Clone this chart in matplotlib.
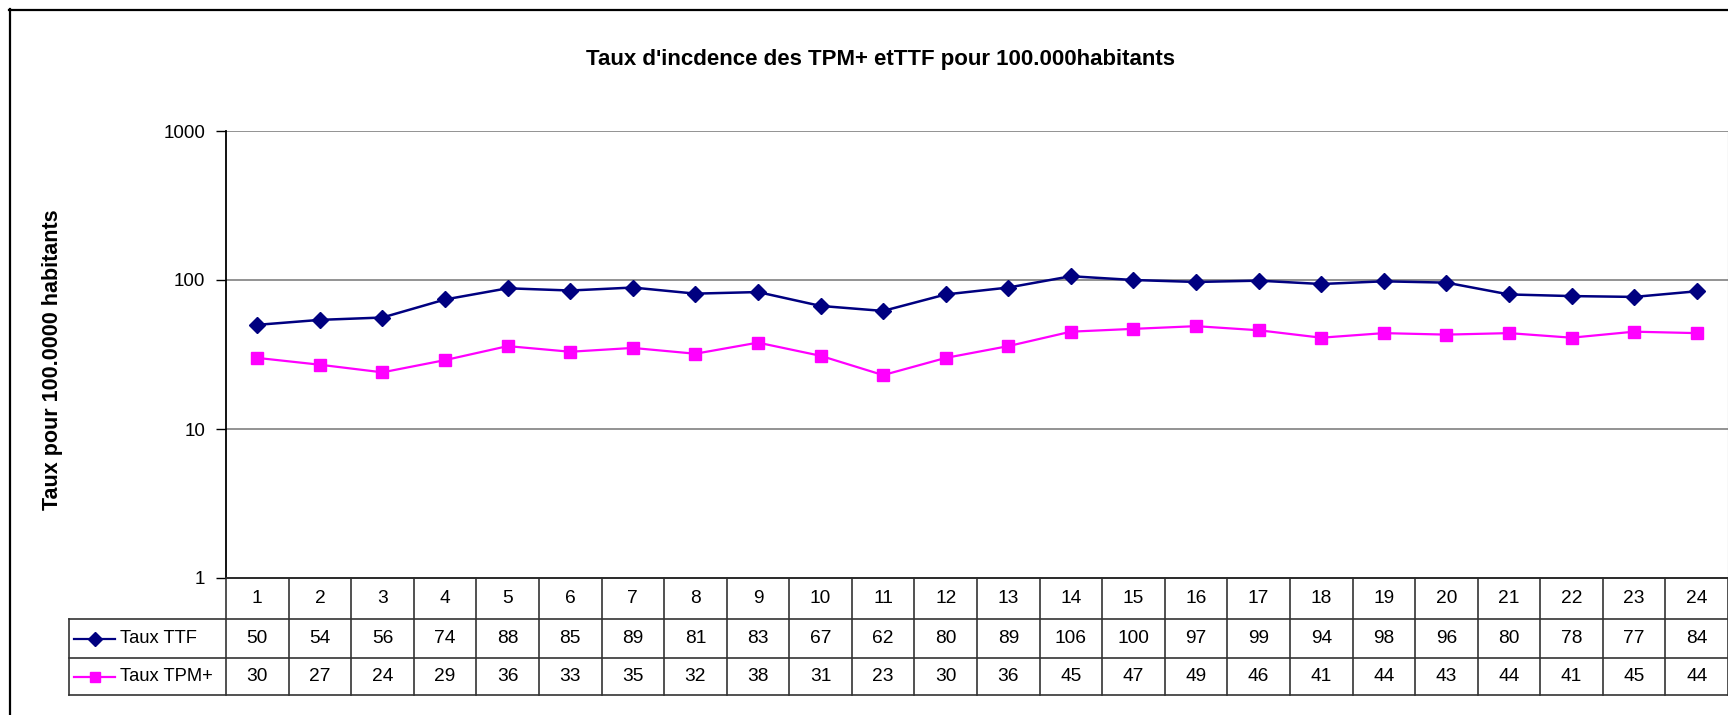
import matplotlib
matplotlib.use("Agg")
import matplotlib.pyplot as plt
from matplotlib.lines import Line2D
import numpy as np

plt.rcParams['font.family'] = ['Liberation Sans', 'DejaVu Sans']

categories = [str(i) for i in range(1, 25)]
taux_ttf = [50, 54, 56, 74, 88, 85, 89, 81, 83, 67, 62, 80, 89, 106, 100, 97, 99, 94, 98, 96, 80, 78, 77, 84]
taux_tpm = [30, 27, 24, 29, 36, 33, 35, 32, 38, 31, 23, 30, 36, 45, 47, 49, 46, 41, 44, 43, 44, 41, 45, 44]
series_names = ["Taux TTF", "Taux TPM+"]
yticks = [1, 10, 100, 1000]
title = "Taux d'incdence des TPM+ etTTF pour 100.000habitants"
ylabel = "Taux pour 100.0000 habitants"

W, H = 1728, 715
fig = plt.figure(figsize=(W / 100, H / 100), dpi=100)

def fx(px):
    return px / W

def fy(py):
    return 1 - py / H

# plot area in pixels
L, T, R, B = 226, 131, 1728, 578
ax = fig.add_axes([fx(L), fy(B), fx(R - L), (B - T) / H])
n = len(categories)
x = np.arange(n) + 0.5
navy = '#000080'
magenta = '#FF00FF'
ax.plot(x, taux_ttf, color=navy, lw=1.8, marker='D', ms=8.5, mfc=navy, mec=navy, zorder=3)
ax.plot(x, taux_tpm, color=magenta, lw=1.6, marker='s', ms=8.5, mfc=magenta, mec=magenta, zorder=3)
ax.set_yscale('log')
ax.set_ylim(1, 1000)
ax.set_xlim(0, n)
ax.set_yticks(yticks)
ax.set_yticklabels([str(v) for v in yticks], fontsize=13.5)
ax.yaxis.set_minor_locator(matplotlib.ticker.NullLocator())
ax.set_xticks([])
ax.tick_params(axis='y', length=7, width=1, pad=8, direction='out')
for v in yticks[1:]:
    ax.axhline(v, color='#808080', lw=1.2, zorder=1)
ax.spines['left'].set_color('black')
ax.spines['bottom'].set_color('black')
ax.spines['left'].set_linewidth(1.3)
ax.spines['bottom'].set_linewidth(1.3)
ax.spines['top'].set_visible(False)
ax.spines['right'].set_color('#808080')

# data table below the axes
row_px = [578, 619, 658, 695]
legend_left = 69
line_col = '#333333'
for i, py in enumerate(row_px):
    x0 = L if i == 0 else legend_left
    fig.add_artist(Line2D([fx(x0), fx(R)], [fy(py), fy(py)], color=line_col, lw=1.2))
fig.add_artist(Line2D([fx(legend_left)] * 2, [fy(row_px[1]), fy(row_px[3])], color=line_col, lw=1.2))
trans_x = ax.get_xaxis_transform()

def ax_y(py):
    return (B - py) / (B - T)

for k in range(n + 1):
    ax.plot([k, k], [ax_y(row_px[0]), ax_y(row_px[3])],
            transform=trans_x, color=line_col, lw=1.2, clip_on=False)

rows = [categories, [str(v) for v in taux_ttf], [str(v) for v in taux_tpm]]
for r, vals in enumerate(rows):
    yc = ax_y((row_px[r] + row_px[r + 1]) / 2)
    for k, s in enumerate(vals):
        ax.text(x[k], yc, s, transform=trans_x, ha='center', va='center', fontsize=13.8, clip_on=False)

# legend keys in table
for r, (name, col, mk) in enumerate(zip(series_names, [navy, magenta], ['D', 's'])):
    yc = fy((row_px[r + 1] + row_px[r + 2]) / 2)
    fig.add_artist(Line2D([fx(74), fx(115)], [yc, yc], color=col, lw=1.6))
    fig.add_artist(Line2D([fx(94.5)], [yc], color=col, marker=mk, ms=7, mfc=col, mec=col, lw=0))
    fig.text(fx(120), yc, name, ha='left', va='center', fontsize=13.2)

# title and y label
fig.text(fx(880), fy(60), title, ha='center', va='center', fontsize=16, fontweight='bold')
fig.text(fx(53), fy(360), ylabel, ha='center', va='center', rotation=90, fontsize=15.5, fontweight='bold')

# chart border
fig.add_artist(Line2D([fx(9), fx(W + 5)], [fy(9.5), fy(9.5)], color='black', lw=1.6))
fig.add_artist(Line2D([fx(9.5), fx(9.5)], [fy(9), fy(H + 5)], color='black', lw=1.6))

fig.savefig('out.png', dpi=100)
